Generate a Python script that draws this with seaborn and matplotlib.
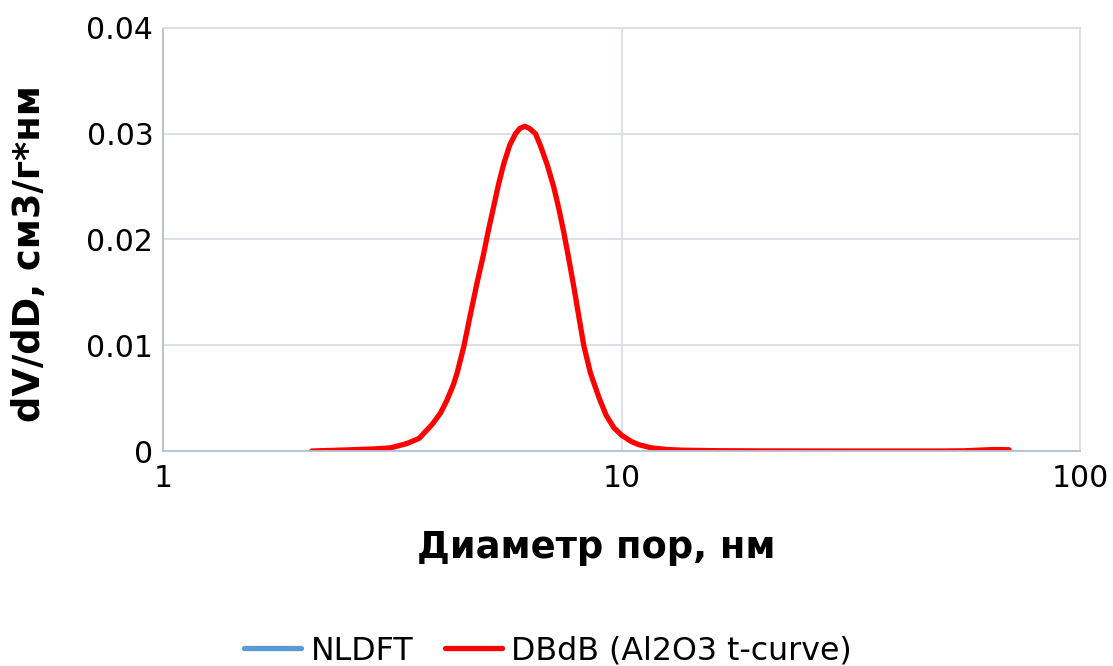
import matplotlib
matplotlib.use("Agg")
import matplotlib.pyplot as plt
from matplotlib.lines import Line2D
from matplotlib.ticker import FixedLocator, FixedFormatter, NullLocator
import seaborn as sns
import pandas as pd

# Pore size distribution (DBdB, Al2O3 t-curve)
diameter_nm = [2.11, 2.5, 2.9, 3.13, 3.4, 3.62, 3.86, 4.03, 4.16, 4.30, 4.38,
               4.53, 4.68, 4.84, 5.00, 5.12, 5.26, 5.39, 5.53, 5.70, 5.87,
               6.00, 6.15, 6.30, 6.49, 6.65, 6.88, 7.11, 7.30, 7.48, 7.67,
               7.87, 8.07, 8.27, 8.55, 8.92, 9.25, 9.62, 10.0, 10.5, 10.9,
               11.6, 12.5, 13.5, 16.0, 20.0, 30.0, 40.0, 50.0, 56.0, 60.0,
               65.0, 70.0]
dbdb_dvdd = [0.0, 0.0001, 0.0002, 0.0003, 0.0007, 0.0012, 0.0025, 0.0036,
             0.0048, 0.0063, 0.0074, 0.0099, 0.0129, 0.0159, 0.0186, 0.0208,
             0.0231, 0.0252, 0.0271, 0.0289, 0.0300, 0.0305, 0.0307, 0.0305,
             0.0300, 0.0289, 0.0271, 0.0250, 0.0229, 0.0207, 0.0182, 0.0155,
             0.0127, 0.0100, 0.0074, 0.0051, 0.0034, 0.0022, 0.0015, 0.0009,
             0.0006, 0.0003, 0.00015, 0.00008, 0.00003, 0.00001, 0.0, 0.0,
             0.0, 0.00002, 0.00008, 0.00014, 0.00012]

# NLDFT series carries no points in this plot
nldft_diameter = []
nldft_dvdd = []

series_names = ["NLDFT", "DBdB (Al2O3 t-curve)"]
series_colors = ["#5b9bd5", "#ff0000"]

x_ticks = [1, 10, 100]
x_tick_labels = ["1", "10", "100"]
y_ticks = [0, 0.01, 0.02, 0.03, 0.04]
y_tick_labels = ["0", "0.01", "0.02", "0.03", "0.04"]

sns.set_theme(style="white")
plt.rcParams["font.family"] = ["DejaVu Sans"]
plt.rcParams["text.color"] = "black"

fig = plt.figure(figsize=(11.13, 6.66), dpi=100)
ax = fig.add_axes([0.1465, 0.3228, 0.8239, 0.6352])

df = pd.DataFrame({"D": diameter_nm, "V": dbdb_dvdd})
sns.lineplot(data=df, x="D", y="V", ax=ax, color=series_colors[1],
             linewidth=3.8, sort=False, estimator=None,
             solid_joinstyle="round", solid_capstyle="round")
if nldft_diameter:
    sns.lineplot(x=nldft_diameter, y=nldft_dvdd, ax=ax,
                 color=series_colors[0], linewidth=3.8)

ax.set_xscale("log")
ax.set_xlim(1, 100)
ax.set_ylim(0, 0.04)
ax.xaxis.set_major_locator(FixedLocator(x_ticks))
ax.xaxis.set_major_formatter(FixedFormatter(x_tick_labels))
ax.xaxis.set_minor_locator(NullLocator())
ax.yaxis.set_major_locator(FixedLocator(y_ticks))
ax.yaxis.set_major_formatter(FixedFormatter(y_tick_labels))

ax.grid(True, color="#d9dde6", linewidth=1.3)
ax.set_axisbelow(True)
for side in ["top", "right"]:
    ax.spines[side].set_color("#d9dde6")
    ax.spines[side].set_linewidth(1.3)
for side in ["left", "bottom"]:
    ax.spines[side].set_color("#b4c0d0")
    ax.spines[side].set_linewidth(1.3)

ax.tick_params(axis="both", length=0, labelsize=21.5, colors="black")
ax.tick_params(axis="x", pad=9)
ax.tick_params(axis="y", pad=7)

ax.set_xlabel("Диаметр пор, нм", fontsize=26.5, fontweight="bold",
              color="black")
ax.set_ylabel("dV/dD, см3/г*нм", fontsize=26.5, fontweight="bold",
              color="black")
ax.xaxis.set_label_coords(0.472, -0.185)
ax.yaxis.set_label_coords(-0.126, 0.466)

handles = [Line2D([], [], color=c, linewidth=3.8) for c in series_colors]
fig.legend(handles, series_names, loc="center",
           bbox_to_anchor=(548 / 1113, 1 - 651 / 666), ncol=2, frameon=False,
           fontsize=22.8, handlelength=1.8, columnspacing=1.0,
           handletextpad=0.3, labelcolor="black")

fig.savefig("out.png", dpi=100)
